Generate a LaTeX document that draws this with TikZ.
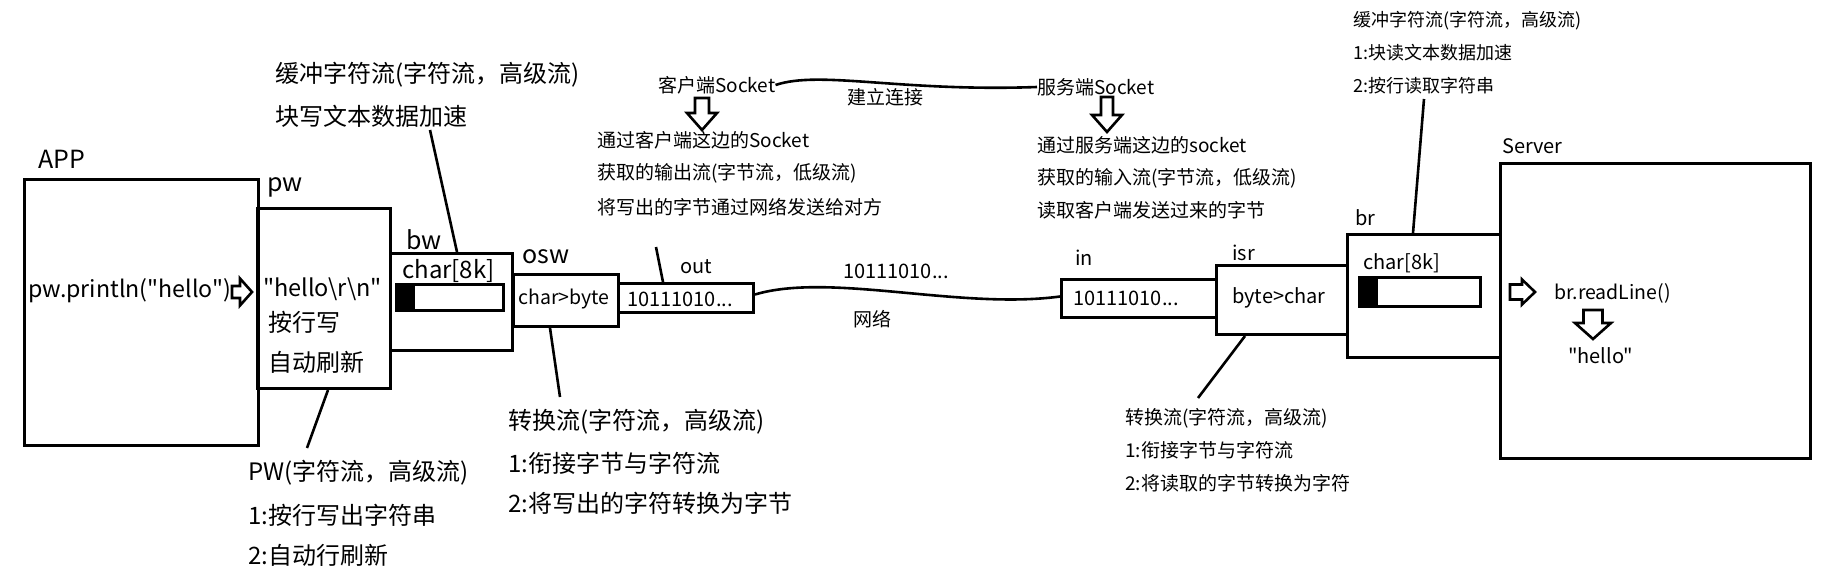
\documentclass[tikz,border=0pt]{standalone}
\usepackage{fontspec}
\setmainfont{Noto Sans CJK SC}[Ligatures=TeXOff]
\newcommand\fs[1]{\fontsize{#1}{#1}\selectfont}
\begin{document}
\begin{tikzpicture}[x=1pt,y=-1pt,
  box/.style={draw,line width=3pt,inner sep=0pt,anchor=north west},
  blk/.style={fill=black,inner sep=0pt,anchor=north west},
  t/.style={inner sep=0pt,anchor=west},
  ln/.style={line width=2.6pt},
  harrow/.style={draw,line width=2.6pt,line join=miter}]
\useasboundingbox (0,0) rectangle (1831,572);

% ---------- boxes ----------
\node[box,minimum width=234pt,minimum height=266pt] (app) at (23,178) {};
\node[box,minimum width=133pt,minimum height=180pt] (pw) at (256,207) {};
\node[box,minimum width=122pt,minimum height=97pt] (bw) at (389,252) {};
\node[blk,minimum width=20pt,minimum height=26pt] (bwfill) at (395,283) {};
\node[box,minimum width=107pt,minimum height=26pt] (bwbar) at (395,283) {};
\node[box,minimum width=105pt,minimum height=52pt] (osw) at (512,273) {};
\node[box,minimum width=135pt,minimum height=29pt] (out) at (617,282) {};
\node[box,minimum width=155pt,minimum height=38pt] (in) at (1060,278) {};
\node[box,minimum width=131pt,minimum height=69pt] (isr) at (1215,264) {};
\node[box,minimum width=153pt,minimum height=123pt] (br) at (1346,233) {};
\node[blk,minimum width=20pt,minimum height=29pt] (brfill) at (1358,276) {};
\node[box,minimum width=121pt,minimum height=29pt] (brbar) at (1358,276) {};
\node[box,minimum width=310pt,minimum height=295pt] (server) at (1499,162) {};

% ---------- labels on the left ----------
\node[t,font=\fs{25}] (applbl) at (38,159) {APP};
\node[t,font=\fs{25}] (pwlbl) at (267,187) {pw};
\node[t,font=\fs{23.2}] (println) at (28,291) {pw.println("hello")};
\node[t,font=\fs{23.5}] (hellorn) at (263,289) {"hello\textbackslash r\textbackslash n"};
\node[t,font=\fs{24}] (lw) at (268,322) {按行写};
\node[t,font=\fs{24}] (af) at (268,362) {自动刷新};
\node[t,font=\fs{25}] (bwlbl) at (406,240) {bw};
\node[t,font=\fs{24}] (bwchar) at (402,271) {char[8k]};
\node[t,font=\fs{25}] (oswlbl) at (522,257) {osw};
\node[inner sep=0pt,font=\fs{19.5}] (oswt) at (564,299) {char>byte};
\node[t,font=\fs{20}] (outlbl) at (680,267) {out};
\node[t,font=\fs{20}] (outt) at (627,299) {10111010...};

% annotations left
\node[t,font=\fs{24}] (bwn1) at (275,75) {缓冲字符流(字符流，高级流)};
\node[t,font=\fs{24}] (bwn2) at (275,116) {块写文本数据加速};
\node[t,font=\fs{24}] (pwn1) at (248,473) {PW(字符流，高级流)};
\node[t,font=\fs{24}] (pwn2) at (248,515) {1:按行写出字符串};
\node[t,font=\fs{24}] (pwn3) at (248,555) {2:自动行刷新};
\node[t,font=\fs{24}] (oswn1) at (508,422) {转换流(字符流，高级流)};
\node[t,font=\fs{24}] (oswn2) at (508,463) {1:衔接字节与字符流};
\node[t,font=\fs{24}] (oswn3) at (508,503) {2:将写出的字符转换为字节};

% ---------- middle ----------
\node[t,font=\fs{19}] (csock) at (658,85) {客户端Socket};
\node[t,font=\fs{19}] (conn) at (847,97) {建立连接};
\node[t,font=\fs{19}] (ssock) at (1037,87) {服务端Socket};
\node[t,font=\fs{19}] (cn1) at (597,140) {通过客户端这边的Socket};
\node[t,font=\fs{19}] (cn2) at (597,173) {获取的输出流(字节流，低级流)};
\node[t,font=\fs{19}] (cn3) at (597,207) {将写出的字节通过网络发送给对方};
\node[t,font=\fs{19}] (sn1) at (1037,145) {通过服务端这边的socket};
\node[t,font=\fs{19}] (sn2) at (1037,178) {获取的输入流(字节流，低级流)};
\node[t,font=\fs{19}] (sn3) at (1037,210) {读取客户端发送过来的字节};
\node[t,font=\fs{20}] (netbits) at (843,271) {10111010...};
\node[t,font=\fs{19}] (net) at (853,319) {网络};

% ---------- right ----------
\node[t,font=\fs{20}] (inlbl) at (1075,258) {in};
\node[t,font=\fs{20}] (int) at (1073,298) {10111010...};
\node[t,font=\fs{20}] (isrlbl) at (1232,253) {isr};
\node[t,font=\fs{20}] (isrt) at (1232,298) {byte>char};
\node[t,font=\fs{19}] (isrn1) at (1125,418) {转换流(字符流，高级流)};
\node[t,font=\fs{19}] (isrn2) at (1125,450) {1:衔接字节与字符流};
\node[t,font=\fs{19}] (isrn3) at (1125,483) {2:将读取的字节转换为字符};
\node[t,font=\fs{20}] (brlbl) at (1355,218) {br};
\node[t,font=\fs{20}] (brchar) at (1363,263) {char[8k]};
\node[t,font=\fs{18}] (brn1) at (1353,21) {缓冲字符流(字符流，高级流)};
\node[t,font=\fs{18}] (brn2) at (1353,53) {1:块读文本数据加速};
\node[t,font=\fs{18}] (brn3) at (1353,86) {2:按行读取字符串};
\node[t,font=\fs{20}] (srvlbl) at (1502,146) {Server};
\node[t,font=\fs{19.5}] (readln) at (1554,293) {br.readLine()};
\node[t,font=\fs{20}] (hello) at (1568,356) {"hello"};

% ---------- pointer lines ----------
\coordinate (pwtail) at (307,448);
\coordinate (bwtail) at (430,130);
\coordinate (oswtail) at (560,397);
\coordinate (outtail) at (656,247);
\coordinate (isrtail) at (1198,398);
\coordinate (brtail) at (1424,99);
\draw[ln] ([xshift=72pt]pw.south west) -- (pwtail);
\draw[ln] ([xshift=68pt]bw.north west) -- (bwtail);
\draw[ln] ([xshift=38pt]osw.south west) -- (oswtail);
\draw[ln] ([xshift=46pt]out.north west) -- (outtail);
\draw[ln] ([xshift=30pt]isr.south west) -- (isrtail);
\draw[ln] ([xshift=67pt]br.north west) -- (brtail);

% ---------- curves ----------
\draw[ln] (csock.east) .. controls (820,70) and (900,92) .. (ssock.west);
\draw[ln] ([yshift=3.5pt]out.east) .. controls (830,272) and (960,310) .. ([yshift=2pt]in.west);

% ---------- hollow block arrows ----------
\coordinate (a1) at (232,292);
\draw[harrow] (a1) ++(0,-6) -- ++(8,0) -- ++(0,-7.5) -- ++(12,13.5) -- ++(-12,13.5) -- ++(0,-7.5) -- ++(-8,0) -- cycle;
\coordinate (a2) at (1510,292);
\draw[harrow] (a2) ++(0,-7.5) -- ++(12,0) -- ++(0,-5) -- ++(13,12.5) -- ++(-13,12.5) -- ++(0,-5) -- ++(-12,0) -- cycle;
\coordinate (a3) at (702,98);
\draw[harrow] (a3) ++(-7,0) -- ++(14,0) -- ++(0,15) -- ++(8,0) -- ++(-15,17) -- ++(-15,-17) -- ++(8,0) -- cycle;
\coordinate (a4) at (1107,97);
\draw[harrow] (a4) ++(-6,0) -- ++(12,0) -- ++(0,18) -- ++(9,0) -- ++(-15,17) -- ++(-15,-17) -- ++(9,0) -- cycle;
\coordinate (a5) at (1593,310);
\draw[harrow] (a5) ++(-9.5,0) -- ++(19,0) -- ++(0,13) -- ++(8.5,0) -- ++(-18,16) -- ++(-18,-16) -- ++(8.5,0) -- cycle;
\end{tikzpicture}
\end{document}
